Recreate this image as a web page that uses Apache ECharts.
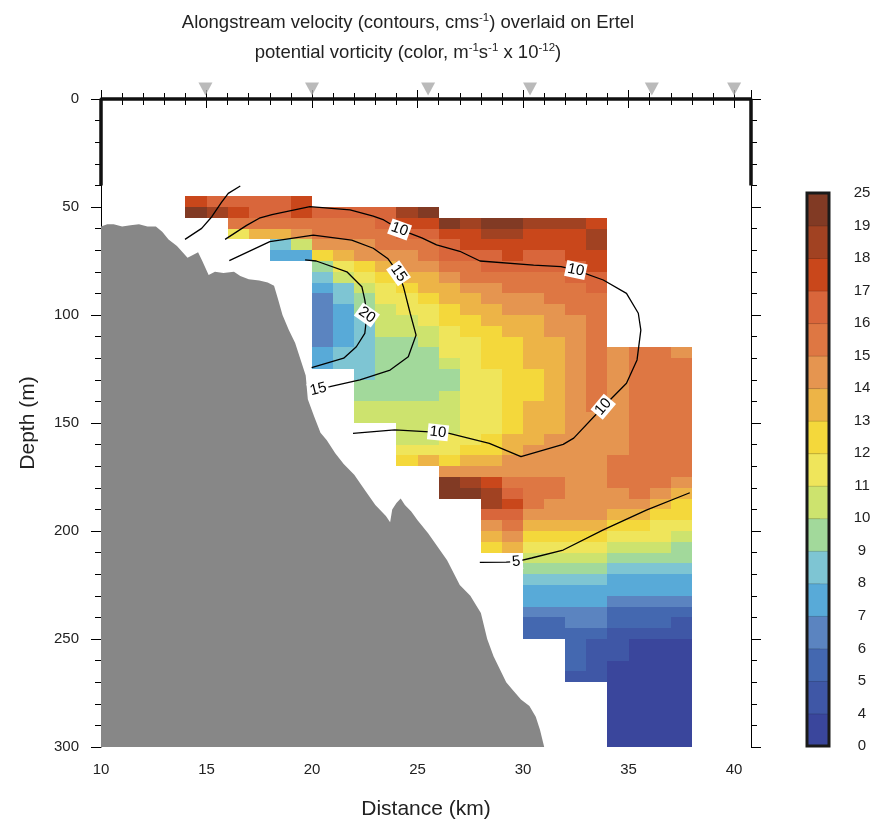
<!DOCTYPE html>
<html><head><meta charset="utf-8">
<script src="https://cdn.jsdelivr.net/npm/echarts/dist/echarts.min.js"></script>
<style>html,body{margin:0;padding:0;background:#fff;}#c{width:877px;height:828px;}</style>
</head><body><div id="c"></div>
<script>
// ---------- DATA ----------
// Colour-bar bin edges (PV, m^-1 s^-1 x 1e-12) and tick labels
const cbBounds = [0, 4, 5, 6, 7, 8, 9, 10, 11, 12, 13, 14, 15, 16, 17, 18, 19, 25];
const cbLabels = ['0','4','5','6','7','8','9','10','11','12','13','14','15','16','17','18','19','25'];
const cbColors = ['#3a469c','#3f57a6','#4468b0','#5b84c0','#58aad8','#7ec5d3','#a2d99b','#cde36e',
                  '#efe55b','#f4d83b','#edb447','#e59550','#de7743','#d9663b','#c9471b','#a14222','#813a24'];

// Station columns: left edge (km) and top depth (m) of each 1-km column; cells are 5 m deep
const colX   = [14,15,16,17,18,19,20,21,22,23,24,25,26,27,28,29,30,31,32,33,34,35,36,37];
const colTop = [45,45,45,45,45,45,50,50,50,50,50,50,55,55,55,55,55,55,55,55,115,115,115,115];

// Ertel PV (x1e-12) per column, top to bottom in 5 m steps
const pv14 = [17.5,19.5];
const pv15 = [16.5,18.5];
const pv16 = [16.5,17.5,15.5,11.5];
const pv17 = [16.5,16.5,15.5,13.5];
const pv18 = [16.5,16.5,15.5,13.5,8.5,7.5];
const pv19 = [17.5,17.5,15.5,14.5,10.5,7.5];
const pv20 = [16.5,15.5,15.5,14.5,12.5,9.5,8.5,7.5,6.5,6.5,6.5,6.5,6.5,7.5,7.5];
const pv21 = [16.5,15.5,15.5,14.5,13.5,11.5,10.5,8.5,8.5,7.5,7.5,7.5,7.5,8.5,8.5];
const pv22 = [16.5,15.5,15.5,14.5,14.5,12.5,11.5,10.5,9.5,9.5,8.5,8.5,8.5,8.5,8.5,8.5,9.5,9.5,10.5,10.5];
const pv23 = [16.5,16.5,15.5,15.5,14.5,13.5,12.5,11.5,11.5,10.5,10.5,10.5,9.5,9.5,9.5,9.5,9.5,9.5,10.5,10.5];
const pv24 = [18.5,17.5,16.5,15.5,14.5,14.5,13.5,12.5,11.5,11.5,10.5,10.5,9.5,9.5,9.5,9.5,9.5,9.5,10.5,10.5,10.5,10.5,11.5,12.5];
const pv25 = [19.5,17.5,16.5,15.5,15.5,14.5,13.5,13.5,12.5,11.5,11.5,10.5,10.5,9.5,9.5,9.5,9.5,9.5,10.5,10.5,10.5,10.5,11.5,13.5];
const pv26 = [19.5,17.5,16.5,16.5,15.5,14.5,13.5,13.5,12.5,12.5,11.5,11.5,11.5,10.5,9.5,9.5,10.5,10.5,10.5,10.5,11.5,11.5,12.5,14.5,19.5,19.5];
const pv27 = [18.5,17.5,17.5,16.5,15.5,15.5,14.5,13.5,13.5,12.5,12.5,11.5,11.5,11.5,11.5,11.5,11.5,11.5,11.5,11.5,11.5,12.5,13.5,14.5,18.5,19.5];
const pv28 = [19.5,18.5,17.5,16.5,16.5,15.5,14.5,14.5,13.5,13.5, 12.5,12.5,12.5,12.5,11.5,11.5,11.5,11.5,11.5,11.5, 12.5,12.5,13.5,14.5,17.5,18.5,18.5,16.5,14.5,13.5, 12.5];
const pv29 = [19.5,18.5,17.5,17.5,16.5,15.5,15.5,14.5,14.5,13.5, 13.5,12.5,12.5,12.5,12.5,12.5,12.5,12.5,12.5,12.5, 13.5,13.5,14.5,14.5,15.5,16.5,17.5,16.5,15.5,14.5, 13.5];
const pv30 = [18.5,17.5,17.5,16.5,16.5,15.5,15.5,14.5,14.5,13.5, 13.5,13.5,13.5,13.5,12.5,12.5,12.5,13.5,13.5,13.5, 13.5,14.5,14.5,14.5,15.5,15.5,15.5,14.5,13.5,12.5, 11.5,10.5,9.5,8.5,7.5,7.5,6.5,5.5,5.5];
const pv31 = [18.5,17.5,17.5,16.5,16.5,15.5,15.5,15.5,14.5,14.5, 14.5,13.5,13.5,13.5,13.5,13.5,13.5,13.5,13.5,13.5, 14.5,14.5,14.5,14.5,15.5,15.5,14.5,14.5,13.5,12.5, 11.5,10.5,9.5,8.5,7.5,7.5,6.5,5.5,5.5];
const pv32 = [18.5,17.5,17.5,17.5,16.5,16.5,15.5,15.5,15.5,14.5, 14.5,14.5,14.5,14.5,14.5,14.5,14.5,14.5,14.5,14.5, 14.5,14.5,14.5,14.5,14.5,14.5,14.5,14.5,13.5,12.5, 11.5,10.5,9.5,8.5,7.5,7.5,6.5,6.5,5.5,5.5,5.5,5.5,4.5];
const pv33 = [17.5,18.5,18.5,17.5,17.5,16.5,16.5,15.5,15.5,15.5, 15.5,15.5,15.5,15.5,15.5,15.5,15.5,15.5,14.5,14.5, 14.5,14.5,14.5,14.5,14.5,14.5,14.5,14.5,13.5,12.5, 11.5,10.5,9.5,8.5,7.5,7.5,6.5,6.5,5.5,4.5,4.5,4.5,4.5];
const pv34 = [14.5,14.5,14.5,14.5,14.5,14.5,14.5,14.5,14.5,14.5, 15.5,15.5,15.5,14.5,14.5,13.5,12.5,11.5,10.5,9.5, 8.5,7.5,7.5,6.5,5.5,5.5,4.5,4.5,4.5,2, 2,2,2,2,2,2,2];
const pv35 = [15.5,15.5,15.5,15.5,15.5,15.5,15.5,15.5,15.5,15.5, 15.5,15.5,15.5,15.5,14.5,13.5,12.5,11.5,10.5,9.5, 8.5,7.5,7.5,6.5,5.5,5.5,4.5,2,2,2, 2,2,2,2,2,2,2];
const pv36 = [15.5,15.5,15.5,15.5,15.5,15.5,15.5,15.5,15.5,15.5, 15.5,15.5,15.5,14.5,13.5,12.5,11.5,11.5,10.5,9.5, 8.5,7.5,7.5,6.5,5.5,5.5,4.5,2,2,2, 2,2,2,2,2,2,2];
const pv37 = [14.5,15.5,15.5,15.5,15.5,15.5,15.5,15.5,15.5,15.5, 15.5,15.5,14.5,13.5,12.5,12.5,11.5,10.5,9.5,9.5, 8.5,7.5,7.5,6.5,5.5,4.5,4.5,2,2,2, 2,2,2,2,2,2,2];
const pvCols = [pv14,pv15,pv16,pv17,pv18,pv19,pv20,pv21,pv22,pv23,pv24,pv25,pv26,pv27,pv28,pv29,pv30,pv31,pv32,pv33,pv34,pv35,pv36,pv37];

// Bottom topography (distance km, depth m)
const bathyKm    = [10.0,10.3,10.6,11.0,11.4,11.8,12.2,12.6,12.9,13.2,13.6,14.1,14.4,14.6,14.8,15.1,15.4,15.8,16.3,16.6,17.0,17.5,17.9,18.2,18.4,18.6,18.9,19.2,19.5,19.7,19.8,20.1,20.4,20.7,21.1,21.5,22.0,22.5,23.0,23.5,23.7,23.8,24.0,24.2,24.4,24.7,25.0,25.5,26.0,26.4,27.0,27.5,28.0,28.3,28.6,28.9,29.2,29.5,29.9,30.3,30.6,30.8,31.0];
const bathyDepth = [59,58,58,59,58.5,58,59,59,61.5,65,68,73.5,72,71,75,81.5,80,80.5,80,82,83.5,84,85,86.5,93,100,107,113,122,128,139,147,154.5,158,164,169,174,181,188,193,196,190,187,185,188,191,195,201,208,213.5,225,230,238,250,258,264,270,273.5,278,281,286,292,300];

// Alongstream velocity contours (km, m)
const vel10a = [[15.88,65],[16.9,58.5],[17.5,55.2],[18.1,53.5],[19.9,49.8],[21.8,51.3],[22.9,54.2],[23.4,56],[24.15,60.4],[25.2,64.3],[25.9,67.5],[27,70.5],[27.96,75],[30.5,76.9],[31.8,77.6],[32.5,79.2],[33.8,83.8],[34.9,90],[35.46,99.2],[35.58,107],[35.4,120.8],[34.9,131.6],[33.8,142.5],[32.4,157],[31.9,159.9],[29.9,165.6],[28.4,159.4],[26.5,154.8],[25.97,154.3],[23.92,153.2],[21.94,154.8]];
const vel10b = [[13.98,65],[14.77,59.9],[15.25,54.5],[15.7,48],[16.03,43.7],[16.6,40.3]];
const vel15  = [[16.08,74.8],[18.0,66],[20.06,63],[21.88,65.3],[22.9,69.1],[23.6,74],[24.1,80.7],[24.33,86.9],[24.65,99.2],[24.93,109.3],[24.56,119.3],[23.7,125.5],[22.27,130],[20.85,133.2],[20.3,134.4]];
const vel20  = [[19.67,74.5],[20.2,75],[21.65,80],[22.36,86.9],[22.5,93],[22.6,100],[22.5,108.5],[22.1,114.7],[21.5,120],[19.98,124.4]];
const vel5   = [[27.95,214.5],[29.2,214.4],[29.68,214.2],[30.4,212.5],[31.9,208.8],[33.8,199.5],[35.84,190.3],[37.9,182.3]];
// Contour labels: text, km, depth, rotation (deg)
const lblText = ['10','10','10','10','15','15','20','5'];
const lblKm   = [24.15,32.5,33.8,25.97,24.1,20.3,22.6,29.68];
const lblDep  = [60.4,79.2,142.5,154.3,80.7,134.4,100,214.2];
const lblRot  = [-20,-12,50,-6,-55,14,-35,6];

// Station markers along the top (km)
const stationKm = [14.95,20.0,25.5,30.33,36.1,40.0];

// Axis ranges / ticks
const xMin = 10, xMax = 40.8, xStep = 5;
const yMin = 0, yMax = 300, yStep = 50;
const cellW = 1, cellH = 5;
const thickFrame = [[10,40],[10,0],[40.8,0],[40.8,40]];

// ---------- BUILD ----------
const cells = [];
colX.forEach(function(x, i){
  pvCols[i].forEach(function(v, j){ cells.push([x, colTop[i] + j*cellH, v]); });
});
const bathy = bathyKm.map(function(k,i){ return [k, bathyDepth[i]]; });
const labelData = lblText.map(function(t,i){ return [lblKm[i], lblDep[i], i]; });
const FONT = 'Liberation Sans, Arial, Helvetica, sans-serif';

const chart = echarts.init(document.getElementById('c'), null, {renderer:'canvas'});
const axisBase = {
  type:'value', min:xMin, max:xMax, interval:xStep, splitLine:{show:false},
  axisLine:{show:true, lineStyle:{color:'#000', width:1}},
  axisTick:{show:true, inside:false, length:9, lineStyle:{color:'#000'}},
  minorTick:{show:true, splitNumber:5, length:6, lineStyle:{color:'#000'}},
  minorSplitLine:{show:false}
};
const yBase = {
  type:'value', min:yMin, max:yMax, interval:yStep, inverse:true, splitLine:{show:false},
  axisLine:{show:true, lineStyle:{color:'#000', width:1}},
  axisTick:{show:true, inside:false, length:10, lineStyle:{color:'#000'}},
  minorTick:{show:true, splitNumber:5, length:6, lineStyle:{color:'#000'}},
  minorSplitLine:{show:false}
};

chart.setOption({
  animation:false,
  backgroundColor:'#fff',
  title:{
    text:'Alongstream velocity (contours, cms{s|-1}) overlaid on Ertel\npotential vorticity (color, m{s|-1}s{s|-1} x 10{s|-12})',
    left:403, top:3, textAlign:'center',
    textStyle:{fontFamily:FONT, fontSize:18.5, fontWeight:'normal', color:'#222', lineHeight:30,
      rich:{s:{fontFamily:FONT, fontSize:11.5, color:'#222', lineHeight:30, verticalAlign:'top', padding:[4,0,0,0]}}}
  },
  grid:[
    {left:101, top:99, width:650, height:648},
    {left:807, top:193, width:22, height:553}
  ],
  xAxis:[
    Object.assign({}, axisBase, {gridIndex:0, position:'bottom',
      axisLabel:{show:true, margin:15, fontSize:15, color:'#222', fontFamily:FONT},
      name:'Distance (km)', nameLocation:'middle', nameGap:52,
      nameTextStyle:{fontSize:21, color:'#222', fontFamily:FONT}}),
    Object.assign({}, axisBase, {gridIndex:0, position:'top', axisLabel:{show:false}}),
    {type:'value', gridIndex:1, min:0, max:1, show:false}
  ],
  yAxis:[
    Object.assign({}, yBase, {gridIndex:0, position:'left',
      axisLabel:{show:true, margin:22, fontSize:15, color:'#222', fontFamily:FONT},
      name:'Depth (m)', nameLocation:'middle', nameGap:62, nameRotate:90,
      nameTextStyle:{fontSize:21, color:'#222', fontFamily:FONT}}),
    Object.assign({}, yBase, {gridIndex:0, position:'right', axisLabel:{show:false}}),
    {type:'value', gridIndex:1, min:0, max:cbBounds.length-1, interval:1, position:'right',
      splitLine:{show:false}, axisLine:{show:false},
      axisTick:{show:true, length:13, lineStyle:{color:'#111'}},
      axisLabel:{show:true, margin:33, align:'center', fontSize:15, color:'#222', fontFamily:FONT,
        formatter:function(v){ return cbLabels[v]; }}}
  ],
  visualMap:{type:'piecewise', show:false, dimension:2, seriesIndex:0,
    pieces: cbColors.map(function(c,i){ return {gte:cbBounds[i], lt:cbBounds[i+1], color:c}; })},
  series:[
    {type:'custom', name:'PV', xAxisIndex:0, yAxisIndex:0, data:cells, z:1,
      encode:{x:0, y:1},
      renderItem:function(params, api){
        const x0 = api.value(0), d0 = api.value(1);
        const p0 = api.coord([x0, d0]), p1 = api.coord([x0+cellW, d0+cellH]);
        const l = Math.round(p0[0]), t = Math.round(p0[1]), r = Math.round(p1[0]), b = Math.round(p1[1]);
        return {type:'rect', shape:{x:l, y:t, width:r-l, height:b-t}, style:{fill:api.visual('color')}};
      }},
    {type:'line', name:'bathy', xAxisIndex:0, yAxisIndex:0, data:bathy, symbol:'none', z:2,
      lineStyle:{width:0, color:'#878787'}, areaStyle:{color:'#878787', opacity:1, origin:'end'}},
    {type:'line', data:vel10a, symbol:'none', z:3, lineStyle:{color:'#000', width:1.3}},
    {type:'line', data:vel10b, symbol:'none', z:3, lineStyle:{color:'#000', width:1.3}, clip:false},
    {type:'line', data:vel15, symbol:'none', z:3, lineStyle:{color:'#000', width:1.3}},
    {type:'line', data:vel20, symbol:'none', z:3, lineStyle:{color:'#000', width:1.3}},
    {type:'line', data:vel5, symbol:'none', z:3, lineStyle:{color:'#000', width:1.3}},
    {type:'custom', name:'clabels', data:labelData, z:4, encode:{x:0, y:1},
      renderItem:function(params, api){
        const p = api.coord([api.value(0), api.value(1)]);
        const k = api.value(2);
        return {type:'text', x:p[0], y:p[1], rotation: lblRot[k]*Math.PI/180,
          style:{text:lblText[k], x:0, y:0, align:'center', verticalAlign:'middle',
            fill:'#000', font:'15px Liberation Sans, Arial, sans-serif',
            backgroundColor:'#fff', padding:[1,2,0,2]}};
      }},
    {type:'line', data:thickFrame, symbol:'none', z:6, clip:false, lineStyle:{color:'#111', width:3.5}},
    {type:'scatter', data:stationKm.map(function(k){ return [k, 0]; }), symbol:'triangle', symbolRotate:180,
      symbolSize:[14,13], symbolOffset:[0,-10], itemStyle:{color:'#a9a9a9'}, clip:false, z:7},
    {type:'custom', name:'colorbar', xAxisIndex:2, yAxisIndex:2, data:cbColors.map(function(c,i){ return [i]; }), z:2,
      renderItem:function(params, api){
        const i = api.value(0);
        const p0 = api.coord([0, i+1]), p1 = api.coord([1, i]);
        return {type:'rect', shape:{x:p0[0], y:p0[1], width:p1[0]-p0[0], height:p1[1]-p0[1]+0.5},
          style:{fill:cbColors[params.dataIndex], stroke:'rgba(0,0,0,0.25)', lineWidth:0.6}};
      }},
    {type:'custom', name:'cbframe', xAxisIndex:2, yAxisIndex:2, data:[[0]], z:5,
      renderItem:function(params, api){
        const p0 = api.coord([0, cbBounds.length-1]), p1 = api.coord([1, 0]);
        return {type:'rect', shape:{x:p0[0], y:p0[1], width:p1[0]-p0[0], height:p1[1]-p0[1]},
          style:{fill:'none', stroke:'#1a1a1a', lineWidth:3}};
      }}
  ]
});
</script></body></html>
